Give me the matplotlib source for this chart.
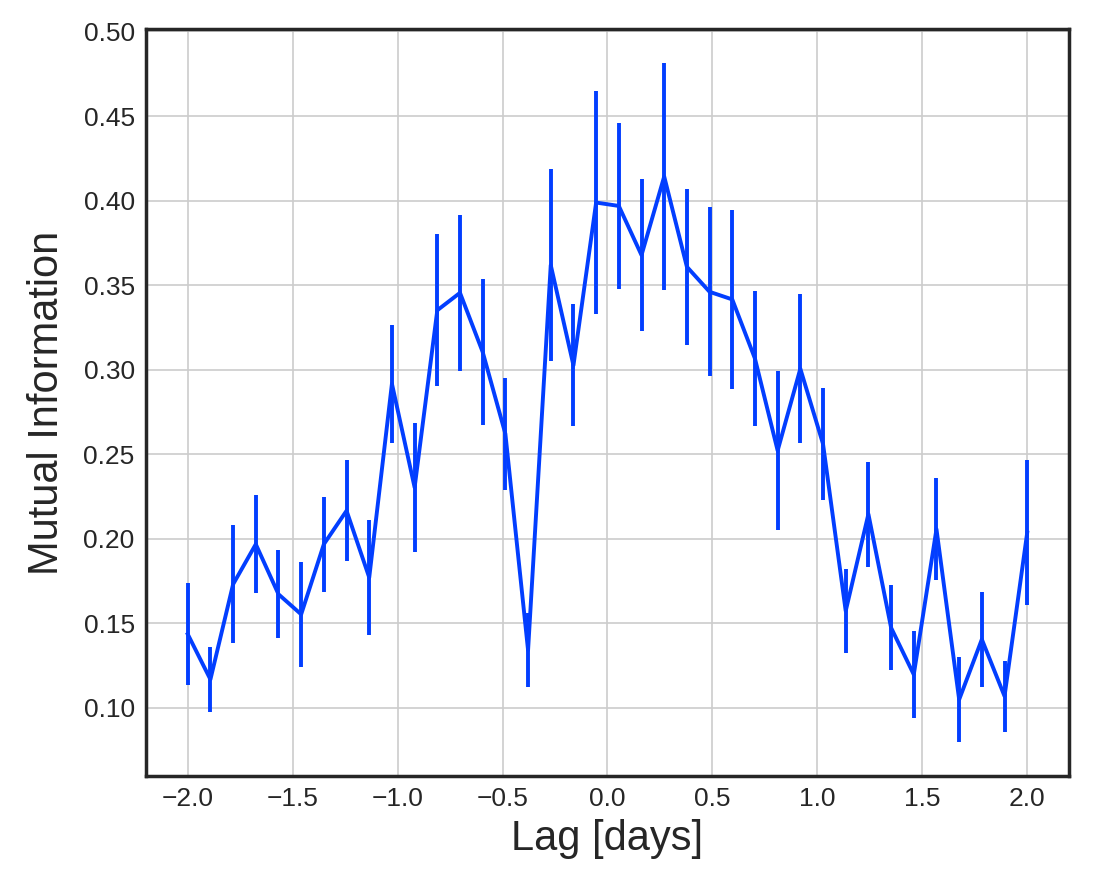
import numpy as np
import matplotlib
matplotlib.use("Agg")
import matplotlib.pyplot as plt

# Data
lags = np.linspace(-2.0, 2.0, 38)
mutual_info = [0.1435, 0.1167, 0.1730, 0.1967, 0.1671, 0.1552, 0.1967, 0.2165,
               0.1770, 0.2916, 0.2303, 0.3351, 0.3454, 0.3104, 0.2620, 0.1340,
               0.3618, 0.3025, 0.3988, 0.3968, 0.3677, 0.4142, 0.3608, 0.3460,
               0.3415, 0.3065, 0.2521, 0.3005, 0.2560, 0.1572, 0.2145, 0.1473,
               0.1196, 0.2056, 0.1048, 0.1404, 0.1068, 0.2036]
errors = [0.030, 0.019, 0.035, 0.029, 0.026, 0.031, 0.028, 0.030,
          0.034, 0.035, 0.038, 0.045, 0.046, 0.043, 0.033, 0.022,
          0.057, 0.036, 0.066, 0.049, 0.045, 0.067, 0.046, 0.050,
          0.053, 0.040, 0.047, 0.044, 0.033, 0.025, 0.031, 0.025,
          0.026, 0.030, 0.025, 0.028, 0.021, 0.043]
xticks = [-2.0, -1.5, -1.0, -0.5, 0.0, 0.5, 1.0, 1.5, 2.0]
yticks = [0.10, 0.15, 0.20, 0.25, 0.30, 0.35, 0.40, 0.45, 0.50]

plt.rcParams['font.family'] = ['Liberation Sans', 'DejaVu Sans']

fig = plt.figure(figsize=(5.5, 4.445), dpi=200)
ax = fig.add_axes([0.1325, 0.1274, 0.8395, 0.8396])
ax.set_facecolor('white')

ax.errorbar(lags, mutual_info, yerr=errors, color='#023eff', lw=1.4,
            elinewidth=1.4, capsize=0, zorder=3)

ax.set_xticks(xticks)
ax.set_yticks(yticks)
ax.set_xticklabels([f"{t:.1f}".replace('-', '\u2212') for t in xticks])
ax.set_yticklabels([f"{t:.2f}" for t in yticks])
ax.tick_params(axis='both', length=0, labelsize=9.5, pad=4, labelcolor='#262626')

ax.grid(True, color='#cccccc', lw=0.6, zorder=0)
ax.set_axisbelow(True)
for s in ax.spines.values():
    s.set_color('#262626')
    s.set_linewidth(1.25)

ax.set_xlabel('Lag [days]', fontsize=15, color='#262626', labelpad=3)
ax.set_ylabel('Mutual Information', fontsize=15, color='#262626', labelpad=6)

fig.savefig('out.png', dpi=200, facecolor='white')
